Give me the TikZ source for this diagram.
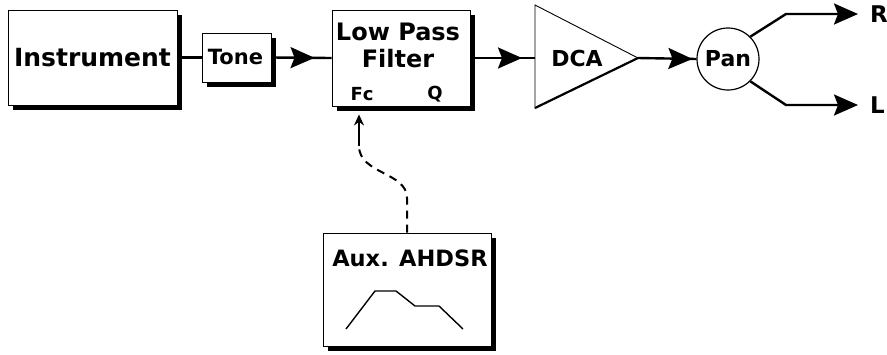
\documentclass[tikz,border=0pt]{standalone}
\usepackage{fontspec}
\setmainfont{DejaVu Sans}
\usetikzlibrary{arrows.meta,shadows,decorations.markings}
\begin{document}
\begin{tikzpicture}[x=1pt,y=-1pt,
  box/.style={draw, line width=0.9pt, fill=white, inner sep=0pt,
    drop shadow={shadow xshift=5pt, shadow yshift=-5pt, fill=black, opacity=1}},
  lbl/.style={font=\bfseries, inner sep=0pt},
  conn/.style={line width=2.4pt},
  bigtip/.style={-{Stealth[length=24pt,width=21pt,inset=4pt]}},
  midtip/.style={postaction={decorate}, decoration={markings,
    mark=at position #1 with {\arrow{Stealth[length=24pt,width=21pt,inset=4pt]}}}},
]
\useasboundingbox[fill=white] (0,0) rectangle (887,354);

% boxes
\node[box, minimum width=169pt, minimum height=95pt] (inst) at (92.5,57.5) {};
\node[lbl, font=\bfseries\fontsize{25}{30}\selectfont] (insttxt) at (92.5,58) {Instrument};
\node[box, minimum width=69pt, minimum height=49pt] (tone) at (236.5,57.5) {};
\node[lbl, font=\bfseries\fontsize{21}{24}\selectfont] (tonetxt) at (235.5,57) {Tone};
\node[box, minimum width=138pt, minimum height=96pt] (lpf) at (401,58) {};
\node[lbl, font=\bfseries\fontsize{24}{27}\selectfont, align=center] (lpftxt) at (398,45.5) {Low Pass\\Filter};
\node[lbl, font=\bfseries\fontsize{18}{20}\selectfont] (fc) at (362,94) {Fc};
\node[lbl, font=\bfseries\fontsize{18}{20}\selectfont] (q) at (435,94) {Q};

% DCA
\coordinate (dcain) at (535,58);
\coordinate (dcaout) at (638,58);
\coordinate (dcatop) at (535,5);
\coordinate (dcabot) at (535,108);
\draw[line width=0.9pt, fill=white] (dcatop) -- (dcaout) -- (dcabot) -- cycle;
\draw[line width=2.2pt] (dcaout) -- (dcabot);
\node[lbl, font=\bfseries\fontsize{22}{24}\selectfont] (dca) at (577,58) {DCA};

% Pan
\node[draw, circle, line width=1.2pt, minimum size=62pt, inner sep=0pt,
  font=\bfseries\fontsize{22}{24}\selectfont] (pan) at (728,59) {Pan};
\node[lbl, font=\bfseries\fontsize{23}{26}\selectfont, anchor=west] (R) at (870,14) {R};
\node[lbl, font=\bfseries\fontsize{23}{26}\selectfont, anchor=west] (L) at (870,105) {L};
\coordinate (rk) at (786,14);
\coordinate (lk) at (786,105);
\coordinate (rend) at (858,14);
\coordinate (lend) at (858,105);

% Aux AHDSR
\node[box, minimum width=168pt, minimum height=113pt] (aux) at (407,289.5) {};
\node[lbl, font=\bfseries\fontsize{22.5}{24}\selectfont] (auxtxt) at (410,258) {Aux. AHDSR};
\draw[line width=1.4pt] (346,329) -- (375,291) -- (396,291) -- (415,306) -- (439,306) -- (463,329);

% connectors
\draw[conn] (inst.east) -- (tone.west);
\draw[conn, midtip=-17pt] (tone.east) -- (lpf.west);
\draw[conn, midtip=-13pt] (lpf.east) -- (dcain);
\draw[conn, midtip=-4pt] (dcaout) -- (pan.west);
\draw[conn, bigtip] (pan.45) -- (rk) -- (rend);
\draw[conn, bigtip] (pan.-45) -- (lk) -- (lend);

\coordinate (dc1) at (359,146);
\draw[line width=2pt, dash pattern=on 8pt off 6pt] (aux.north) -- (407,198) .. controls (407,172) and (359,174) .. (dc1);
\draw[line width=2pt, shorten >=8pt, -{Stealth[length=11pt,width=10pt]}] (dc1) -- (lpf.south -| dc1);
\end{tikzpicture}
\end{document}
